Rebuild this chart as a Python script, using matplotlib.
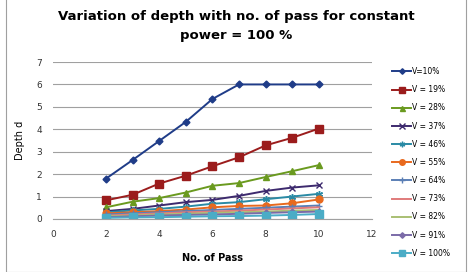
import matplotlib
matplotlib.use('Agg')
import matplotlib.pyplot as plt
from matplotlib.patches import Rectangle

passes = [2, 3, 4, 5, 6, 7, 8, 9, 10]
labels = ['V=10%', 'V = 19%', 'V = 28%', 'V = 37%', 'V = 46%', 'V = 55%',
          'V = 64%', 'V = 73%', 'V = 82%', 'V = 91%', 'V = 100%']
v10 = [1.8, 2.63, 3.48, 4.33, 5.35, 6.0, 6.0, 6.0, 6.0]
v19 = [0.83, 1.08, 1.58, 1.93, 2.35, 2.75, 3.28, 3.62, 4.03]
v28 = [0.52, 0.77, 0.93, 1.18, 1.48, 1.6, 1.87, 2.13, 2.4]
v37 = [0.35, 0.45, 0.6, 0.75, 0.85, 1.03, 1.25, 1.4, 1.5]
v46 = [0.3, 0.38, 0.45, 0.55, 0.68, 0.75, 0.88, 1.0, 1.12]
v55 = [0.25, 0.3, 0.35, 0.42, 0.52, 0.58, 0.6, 0.7, 0.87]
v64 = [0.2, 0.25, 0.3, 0.35, 0.4, 0.45, 0.5, 0.55, 0.6]
v73 = [0.15, 0.2, 0.25, 0.3, 0.33, 0.37, 0.42, 0.47, 0.52]
v82 = [0.12, 0.15, 0.2, 0.23, 0.27, 0.3, 0.33, 0.37, 0.4]
v91 = [0.08, 0.12, 0.15, 0.18, 0.2, 0.23, 0.27, 0.3, 0.33]
v100 = [0.05, 0.07, 0.08, 0.1, 0.12, 0.13, 0.15, 0.18, 0.22]
series = [v10, v19, v28, v37, v46, v55, v64, v73, v82, v91, v100]

colors = ['#1f3c88', '#9b1c1c', '#6a9a1f', '#3d2a6e', '#2a8aa5', '#e8691e',
          '#5b7fb5', '#e07b7b', '#a9bf73', '#7b6ba8', '#4bacc6']
markers = ['D', 's', '^', 'x', (6, 2, 0), 'o', '+', None, None, 'D', 's']
msizes = [3.5, 5.5, 4.5, 5, 5, 5, 5, 0, 0, 3.5, 5.5]

fig = plt.figure(figsize=(4.72, 2.72), dpi=100)
ax = fig.add_axes([0.112, 0.195, 0.676, 0.577])

for vals, lab, c, m, ms in zip(series, labels, colors, markers, msizes):
    ax.plot(passes, vals, color=c, marker=m, markersize=ms, linewidth=1.4,
            label=lab, markeredgewidth=1)

ax.set_xlim(0, 12)
ax.set_ylim(0, 7)
ax.set_xticks(range(0, 13, 2))
ax.set_yticks(range(0, 8))
ax.grid(axis='y', color='#a0a0a0', linewidth=0.8)
ax.set_axisbelow(True)
for s in ['top', 'right', 'left']:
    ax.spines[s].set_visible(False)
ax.spines['bottom'].set_color('#a0a0a0')
ax.tick_params(length=0, labelsize=6.5, colors='#333333', pad=8)
ax.set_xlabel('No. of Pass', fontsize=7, fontweight='bold', labelpad=10)
ax.set_ylabel('Depth d', fontsize=7, labelpad=8)

fig.suptitle('Variation of depth with no. of pass for constant\npower = 100 %',
             fontsize=9.5, fontweight='bold', y=0.965, x=0.5, linespacing=1.6)

leg = ax.legend(loc='center left', bbox_to_anchor=(1.04, 0.36), frameon=False,
                fontsize=5.5, labelspacing=1.2, handlelength=2.6,
                handletextpad=0.1, markerscale=0.8)

fig.add_artist(Rectangle((0.012, 0.0), 0.976, 1.2, transform=fig.transFigure,
                         fill=False, edgecolor='#a0a0a0', linewidth=0.8))

fig.savefig('out.png', dpi=100)
